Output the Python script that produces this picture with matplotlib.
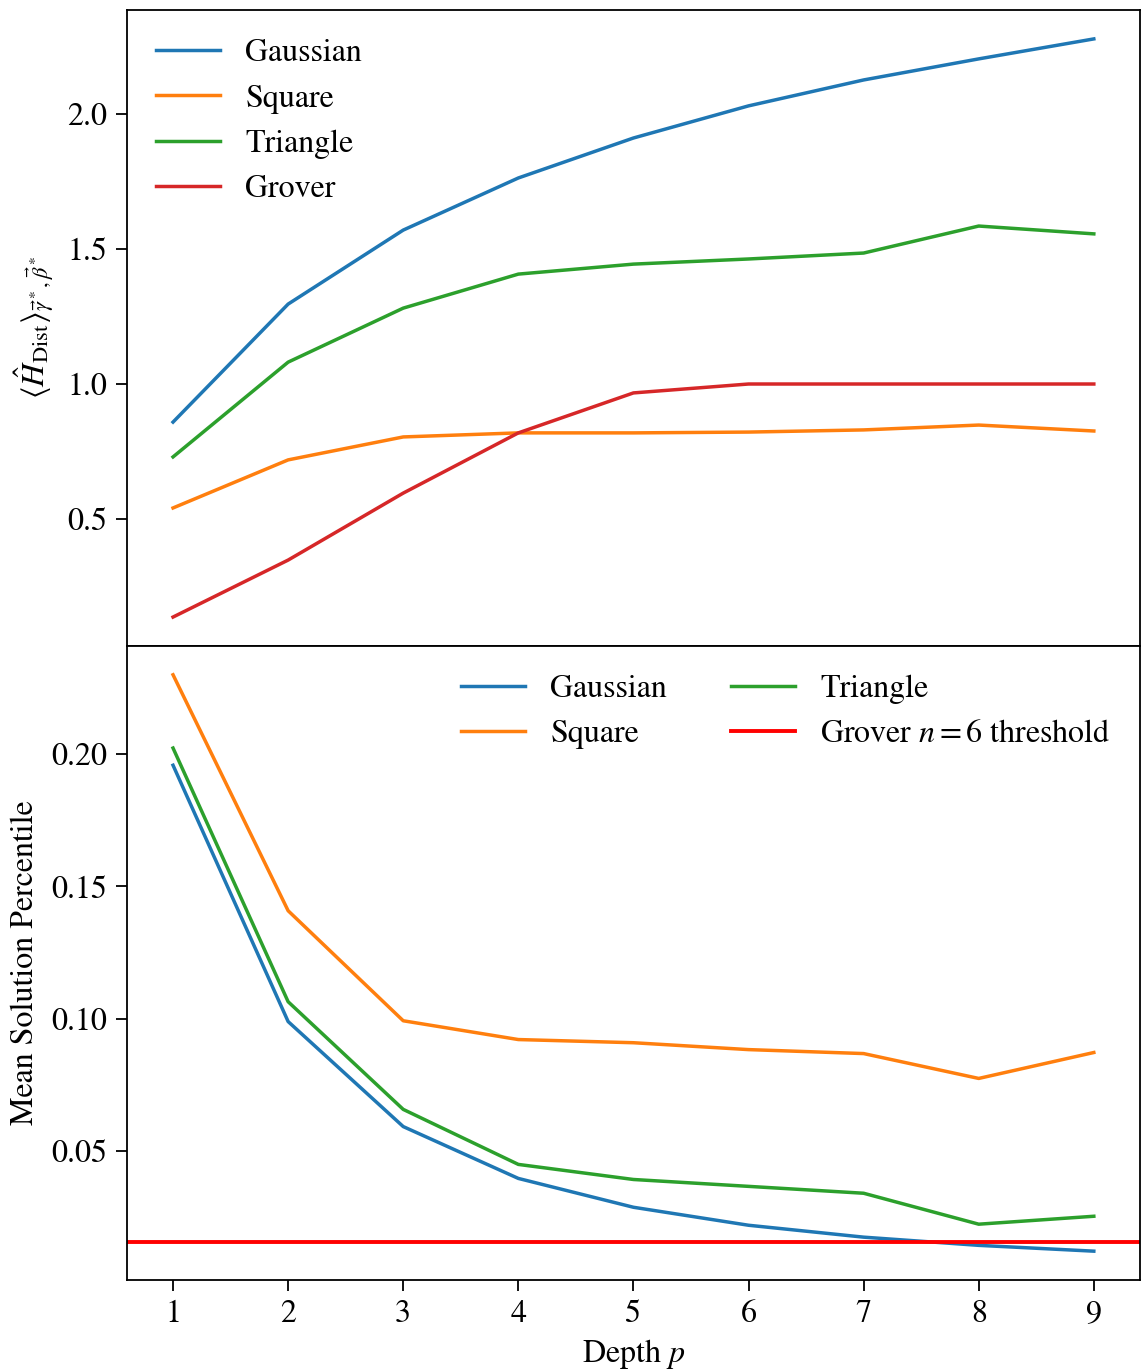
import matplotlib
matplotlib.use("Agg")
import matplotlib.pyplot as plt

plt.rcParams['font.family'] = 'STIXGeneral'
plt.rcParams['mathtext.fontset'] = 'stix'
plt.rcParams['font.size'] = 23

depth = [1, 2, 3, 4, 5, 6, 7, 8, 9]

# expected Hamiltonian value at optimal angles
h_gaussian = [0.859, 1.296, 1.570, 1.763, 1.911, 2.030, 2.126, 2.204, 2.278]
h_square = [0.541, 0.719, 0.804, 0.819, 0.819, 0.822, 0.830, 0.848, 0.826]
h_triangle = [0.730, 1.081, 1.281, 1.407, 1.444, 1.463, 1.485, 1.585, 1.556]
h_grover = [0.137, 0.348, 0.596, 0.819, 0.967, 1.0, 1.0, 1.0, 1.0]

# mean solution percentile
pct_gaussian = [0.1958, 0.0989, 0.0592, 0.0396, 0.0287, 0.0219, 0.0174, 0.0143, 0.0121]
pct_square = [0.2300, 0.1408, 0.0992, 0.0921, 0.0909, 0.0883, 0.0868, 0.0774, 0.0872]
pct_triangle = [0.2023, 0.1064, 0.0657, 0.0449, 0.0392, 0.0366, 0.0340, 0.0223, 0.0253]
grover_threshold = 1 / 64

fig = plt.figure(figsize=(11.41, 13.70), dpi=100)
ax1 = fig.add_axes([0.1113, 0.5285, 0.8877, 0.4642])
ax2 = fig.add_axes([0.1113, 0.0657, 0.8877, 0.4628], sharex=ax1)

lw = 2.5
ax1.plot(depth, h_gaussian, color='tab:blue', lw=lw, label='Gaussian')
ax1.plot(depth, h_square, color='tab:orange', lw=lw, label='Square')
ax1.plot(depth, h_triangle, color='tab:green', lw=lw, label='Triangle')
ax1.plot(depth, h_grover, color='tab:red', lw=lw, label='Grover')
ax1.set_ylabel(r'$\langle \hat{H}_{\rm Dist} \rangle_{\vec{\gamma}^*,\vec{\beta}^*}$', labelpad=8)
ax1.set_yticks([0.5, 1.0, 1.5, 2.0])
ax1.tick_params(axis='x', bottom=False, labelbottom=False)
ax1.legend(loc='upper left', frameon=False)

ax2.plot(depth, pct_gaussian, color='tab:blue', lw=lw, label='Gaussian')
ax2.plot(depth, pct_square, color='tab:orange', lw=lw, label='Square')
ax2.plot(depth, pct_triangle, color='tab:green', lw=lw, label='Triangle')
ax2.axhline(grover_threshold, color='red', lw=lw + 0.3, label=r'Grover $n=6$ threshold')
ax2.set_ylabel('Mean Solution Percentile', labelpad=8)
ax2.set_xlabel(r'Depth $p$', labelpad=6)
ax2.set_yticks([0.05, 0.10, 0.15, 0.20])
ax2.set_xticks(depth)
ax2.legend(loc='upper right', ncol=2, frameon=False)

for ax in (ax1, ax2):
    for s in ax.spines.values():
        s.set_linewidth(1.3)
    ax.tick_params(width=1.3, length=8, pad=6)

fig.savefig('out.png', dpi=100)
